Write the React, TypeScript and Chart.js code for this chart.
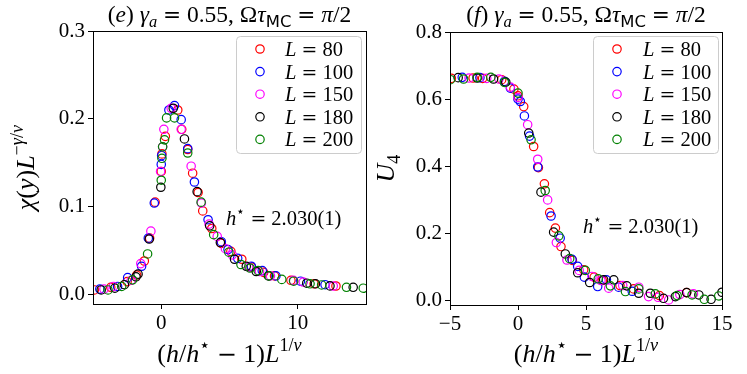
import React, { useEffect, useRef } from "react";
import { Chart, registerables } from "chart.js";
Chart.register(...registerables);

// ---------- data ----------
const seriesLabels = ["80", "100", "150", "180", "200"];
const seriesColors = ["#ff0000", "#0000ff", "#ff00ff", "#000000", "#008000"];

const chi80 = [[-4.9,0.005],[-3.7,0.008],[-2.5,0.0145],[-1.8,0.022],[-1.24,0.038],[-0.85,0.064],[-0.45,0.105],[0.0,0.14],[0.05,0.16],[0.3,0.18],[1.21,0.21],[1.5,0.188],[1.94,0.165],[2.3,0.138],[2.7,0.116],[3.04,0.095],[3.7,0.075],[4.4,0.058],[5.1,0.049],[5.9,0.04],[6.6,0.031],[7.5,0.025],[8.3,0.021],[9.5,0.016],[11.2,0.012],[12.8,0.0095]];
const chi100 = [[-4.5,0.006],[-3.2,0.009],[-2.46,0.019],[-1.44,0.032],[-0.95,0.064],[-0.51,0.104],[0.0,0.148],[0.03,0.158],[0.56,0.21],[0.97,0.215],[1.46,0.199],[1.94,0.166],[2.43,0.128],[3.43,0.085],[4.4,0.06],[4.89,0.051],[5.6,0.041],[6.6,0.032],[7.4,0.027],[8.4,0.021],[10.2,0.015],[12.0,0.011]];
const chi150 = [[-4.2,0.006],[-3.5,0.009],[-2.2,0.016],[-1.5,0.035],[-0.76,0.072],[-0.05,0.14],[0.1,0.168],[0.19,0.188],[0.73,0.212],[1.46,0.188],[2.19,0.146],[2.94,0.104],[3.5,0.08],[4.1,0.066],[4.7,0.052],[5.2,0.045],[6.4,0.031],[7.2,0.026],[8.0,0.021],[9.68,0.016],[10.4,0.014],[12.6,0.0095]];
const chi180 = [[-4.4,0.005],[-3.4,0.007],[-2.7,0.011],[-1.85,0.02],[-1.7,0.023],[-0.88,0.063],[-0.03,0.122],[0.88,0.212],[1.7,0.177],[2.63,0.117],[3.55,0.078],[4.33,0.059],[5.37,0.04],[6.23,0.032],[6.96,0.026],[7.85,0.021],[10.66,0.0127],[11.3,0.012],[12.36,0.0096],[14.06,0.008]];
const chi200 = [[-3.9,0.005],[-2.9,0.009],[-2.1,0.0165],[-1.0,0.046],[0.0,0.13],[0.05,0.155],[0.1,0.168],[0.24,0.176],[0.39,0.201],[0.97,0.201],[1.94,0.161],[2.92,0.105],[3.84,0.068],[4.95,0.048],[5.84,0.034],[6.5,0.03],[7.1,0.027],[7.9,0.021],[8.83,0.017],[9.7,0.015],[10.9,0.012],[11.75,0.0107],[13.57,0.008],[14.8,0.007]];

const u80 = [[-4.9,0.662],[-3.3,0.663],[-2.6,0.662],[-1.2,0.658],[-0.3,0.63],[0.0,0.61],[0.42,0.578],[1.15,0.459],[1.5,0.396],[1.94,0.348],[2.33,0.262],[2.75,0.216],[3.16,0.161],[4.0,0.12],[4.83,0.092],[5.6,0.07],[6.2,0.06],[7.5,0.045],[8.5,0.035],[10.4,0.015],[12.4,0.024]];
const u100 = [[-4.1,0.665],[-2.8,0.664],[-1.0,0.653],[-0.56,0.633],[0.0,0.6],[0.17,0.593],[0.47,0.55],[0.85,0.49],[1.45,0.398],[2.43,0.252],[3.1,0.186],[3.97,0.123],[4.39,0.102],[4.88,0.07],[5.86,0.042],[6.5,0.062],[7.4,0.04],[8.4,0.028]];
const u150 = [[-3.6,0.663],[-2.3,0.662],[-1.4,0.66],[-0.56,0.636],[0.0,0.605],[0.71,0.524],[1.45,0.421],[2.18,0.3],[2.82,0.173],[3.6,0.121],[4.5,0.09],[5.44,0.072],[6.1,0.06],[6.67,0.037],[7.7,0.045],[8.88,0.04],[9.6,0.012],[10.3,0.01],[11.08,0.002],[11.9,0.018],[12.9,0.02]];
const u180 = [[-4.4,0.664],[-3.0,0.663],[-1.8,0.66],[-0.9,0.651],[0.79,0.499],[1.69,0.323],[2.62,0.204],[3.48,0.139],[4.39,0.083],[5.27,0.054],[6.3,0.062],[7.04,0.062],[8.0,0.044],[8.88,0.022],[9.73,0.022],[10.7,0.007],[11.57,0.012],[12.4,0.024],[13.3,0.017],[14.2,0.004],[15.0,0.025]];
const u200 = [[-4.97,0.658],[-4.0,0.66],[-3.0,0.665],[-2.0,0.665],[-1.0,0.65],[0.0,0.618],[0.96,0.479],[2.0,0.328],[3.0,0.193],[3.8,0.125],[4.95,0.09],[5.9,0.065],[6.79,0.044],[7.9,0.027],[8.88,0.035],[10.1,0.02],[11.7,0.015],[12.8,0.017],[13.7,0.004],[14.76,0.014]];

const chiXTicks = [0, 10];
const chiYTicks = [0, 0.1, 0.2, 0.3];
const uXTicks = [-5, 0, 5, 10, 15];
const uYTicks = [0, 0.2, 0.4, 0.6, 0.8];
const hStarValue = "2.030(1)";

// ---------- rich text ----------
type Seg = { t: string; s?: "r" | "i" | "sf" | "m"; p?: "sub" | "sup" };
const SERIF = '"Liberation Serif", "DejaVu Serif", serif';
function segFont(seg: Seg, size: number) {
  let sz = seg.p ? size * 0.7 : size;
  let fam = SERIF;
  if (seg.s === "sf") fam = '"DejaVu Sans", sans-serif';
  if (seg.s === "m") { fam = '"DejaVu Serif", serif'; sz = sz * 0.92; }
  return `${seg.s === "i" ? "italic " : ""}${sz}px ${fam}`;
}
function richWidth(ctx: CanvasRenderingContext2D, segs: Seg[], size: number) {
  let w = 0;
  for (const s of segs) { ctx.font = segFont(s, size); w += ctx.measureText(s.t).width; }
  return w;
}
function drawRich(ctx: CanvasRenderingContext2D, segs: Seg[], size: number, x: number, y: number, align: "center" | "left") {
  const w = richWidth(ctx, segs, size);
  let cx = align === "center" ? x - w / 2 : x;
  ctx.textAlign = "left";
  ctx.textBaseline = "alphabetic";
  ctx.fillStyle = "#000";
  for (const s of segs) {
    ctx.font = segFont(s, size);
    const dy = s.p === "sub" ? size * 0.22 : s.p === "sup" ? -size * 0.42 : 0;
    ctx.fillText(s.t, cx, y + dy);
    cx += ctx.measureText(s.t).width;
  }
}
const EQ: Seg[] = [{ t: " " }, { t: "=", s: "m" }, { t: " " }];

const xLabel: Seg[] = [{ t: "(" }, { t: "h", s: "i" }, { t: "/" }, { t: "h", s: "i" }, { t: "⋆", p: "sup" }, { t: " " }, { t: "−", s: "m" }, { t: " 1)" }, { t: "L", s: "i" }, { t: "1/", p: "sup" }, { t: "ν", s: "i", p: "sup" }];
const chiLabel: Seg[] = [{ t: "χ", s: "i" }, { t: "(" }, { t: "y", s: "i" }, { t: ")" }, { t: "L", s: "i" }, { t: "−", p: "sup" }, { t: "γ", s: "i", p: "sup" }, { t: "/", p: "sup" }, { t: "ν", s: "i", p: "sup" }];
const uLabel: Seg[] = [{ t: "U", s: "i" }, { t: "4", p: "sub" }];
const titleSegs = (tag: string): Seg[] => [{ t: "(" }, { t: tag, s: "i" }, { t: ") " }, { t: "γ", s: "i" }, { t: "a", s: "i", p: "sub" }, ...EQ, { t: "0.55, Ω" }, { t: "τ", s: "i" }, { t: "MC", s: "sf", p: "sub" }, ...EQ, { t: "π", s: "i" }, { t: "/2" }];
const annSegs: Seg[] = [{ t: "h", s: "i" }, { t: "⋆", p: "sup" }, ...EQ, { t: hStarValue }];

type PanelCfg = {
  left: number; width: number; padTop: number; padRight: number; yAxisW: number; xAxisH: number;
  yMin: number; yMax: number; yTicks: number[]; xTicks: number[]; series: number[][][];
  title: Seg[]; yLabel: Seg[]; yLabelX: number;
  legendBox: [number, number, number, number]; legendMarkerX: number; legendTextX: number;
  annX: number; annY: number;
};

const fmtX = (v: number) => (v < 0 ? "\u2212" + Math.abs(v) : String(v));

function Panel({ cfg }: { cfg: PanelCfg }) {
  const ref = useRef<HTMLCanvasElement | null>(null);
  useEffect(() => {
    const canvas = ref.current!;
    const deco = {
      id: "deco",
      afterDraw(chart: any) {
        const ctx: CanvasRenderingContext2D = chart.ctx;
        const a = chart.chartArea;
        ctx.save();
        ctx.strokeStyle = "#000";
        ctx.lineWidth = 1;
        ctx.strokeRect(Math.round(a.left) + 0.5, Math.round(a.top) + 0.5, Math.round(a.right - a.left), Math.round(a.bottom - a.top));
        const cxm = (a.left + a.right) / 2;
        drawRich(ctx, cfg.title, 23.5, cxm, 22, "center");
        drawRich(ctx, xLabel, 26, cxm, 362, "center");
        ctx.save();
        ctx.translate(cfg.yLabelX, (a.top + a.bottom) / 2);
        ctx.rotate(-Math.PI / 2);
        drawRich(ctx, cfg.yLabel, 26, 0, 0, "center");
        ctx.restore();
        drawRich(ctx, annSegs, 20.5, cfg.annX, cfg.annY, "left");
        // legend
        const [bx, by, bw, bh] = cfg.legendBox;
        ctx.beginPath();
        ctx.roundRect(bx + 0.5, by + 0.5, bw, bh, 4);
        ctx.fillStyle = "rgba(255,255,255,0.8)";
        ctx.fill();
        ctx.strokeStyle = "#cccccc";
        ctx.lineWidth = 1;
        ctx.stroke();
        const rowH = 22.6;
        seriesLabels.forEach((lab, i) => {
          const y = by + 13 + i * rowH;
          ctx.beginPath();
          ctx.arc(cfg.legendMarkerX, y, 4.2, 0, Math.PI * 2);
          ctx.strokeStyle = seriesColors[i];
          ctx.lineWidth = 1.2;
          ctx.stroke();
          drawRich(ctx, [{ t: "L", s: "i" }, ...EQ, { t: lab }], 20.5, cfg.legendTextX, y + 7, "left");
        });
        ctx.restore();
      },
    };
    const chart = new Chart(canvas, {
      type: "scatter",
      data: {
        datasets: cfg.series.map((pts, i) => ({
          label: "L = " + seriesLabels[i],
          data: pts.map(([x, y]) => ({ x, y })),
          borderColor: seriesColors[i],
          backgroundColor: "rgba(0,0,0,0)",
          pointRadius: 4.2,
          pointBorderWidth: 1.2,
          pointStyle: "circle",
          showLine: false,
          order: 4 - i,
          clip: 0,
        })),
      },
      options: {
        animation: false,
        responsive: false,
        devicePixelRatio: 1,
        layout: { padding: { top: cfg.padTop, right: cfg.padRight, left: 0, bottom: 0 } },
        plugins: { legend: { display: false }, tooltip: { enabled: false }, title: { display: false } },
        scales: {
          x: {
            type: "linear", min: -5, max: 15,
            afterBuildTicks: (s: any) => { s.ticks = cfg.xTicks.map((v) => ({ value: v })); },
            afterFit: (s: any) => { s.height = cfg.xAxisH; },
            grid: { drawOnChartArea: false, tickLength: 5, tickColor: "#000", color: "#000" },
            border: { color: "#000" },
            ticks: { color: "#000", font: { family: SERIF, size: 21 }, padding: 2, maxRotation: 0, autoSkip: false, callback: (v: any) => fmtX(Number(v)) },
          },
          y: {
            type: "linear", min: cfg.yMin, max: cfg.yMax,
            afterBuildTicks: (s: any) => { s.ticks = cfg.yTicks.map((v) => ({ value: v })); },
            afterFit: (s: any) => { s.width = cfg.yAxisW; },
            grid: { drawOnChartArea: false, tickLength: 5, tickColor: "#000", color: "#000" },
            border: { color: "#000" },
            ticks: { color: "#000", font: { family: SERIF, size: 21 }, padding: 3, autoSkip: false, callback: (v: any) => Number(v).toFixed(1) },
          },
        },
      },
      plugins: [deco],
    } as any);
    return () => chart.destroy();
  }, [cfg]);
  return (
    <canvas ref={ref} width={cfg.width} height={374}
      style={{ position: "absolute", left: cfg.left, top: 0, width: cfg.width, height: 374 }} />
  );
}

const leftCfg: PanelCfg = {
  left: 0, width: 374, padTop: 31, padRight: 8, yAxisW: 93, xAxisH: 70,
  yMin: -0.011, yMax: 0.3, yTicks: chiYTicks, xTicks: chiXTicks,
  series: [chi80, chi100, chi150, chi180, chi200],
  title: titleSegs("e"), yLabel: chiLabel, yLabelX: 34,
  legendBox: [236, 36, 125, 117], legendMarkerX: 260, legendTextX: 285,
  annX: 226, annY: 225,
};
const rightCfg: PanelCfg = {
  left: 374, width: 373, padTop: 32, padRight: 25, yAxisW: 76, xAxisH: 69,
  yMin: -0.013, yMax: 0.8, yTicks: uYTicks, xTicks: uXTicks,
  series: [u80, u100, u150, u180, u200],
  title: titleSegs("f"), yLabel: uLabel, yLabelX: 20,
  legendBox: [219, 36, 125, 117], legendMarkerX: 243, legendTextX: 269,
  annX: 209, annY: 233,
};

export default function App() {
  return (
    <div style={{ position: "fixed", left: 0, top: 0, width: 747, height: 374, background: "#fff" }}>
      <Panel cfg={leftCfg} />
      <Panel cfg={rightCfg} />
    </div>
  );
}
